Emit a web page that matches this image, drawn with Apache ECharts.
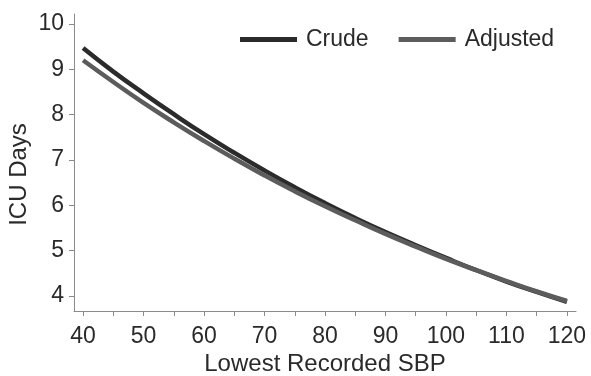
<!DOCTYPE html>
<html>
<head>
<meta charset="utf-8">
<script src="https://cdn.jsdelivr.net/npm/echarts@6/dist/echarts.min.js"></script>
<style>
  html, body { margin: 0; padding: 0; background: #fff; }
  #chart { width: 591px; height: 376px; }
</style>
</head>
<body>
<div id="chart"></div>
<script>
// lowest recorded SBP values
const sbp = [40, 45, 50, 55, 60, 65, 70, 75, 80, 85, 90, 95, 100, 105, 110, 115, 120]
const crude = [9.47, 8.95, 8.47, 8.01, 7.57, 7.16, 6.77, 6.40, 6.05, 5.72, 5.41, 5.12, 4.84, 4.57, 4.32, 4.09, 3.87]
const adjusted = [9.20, 8.72, 8.26, 7.83, 7.42, 7.03, 6.66, 6.31, 5.98, 5.67, 5.37, 5.09, 4.82, 4.57, 4.33, 4.10, 3.89]

const xTicks = [40, 45, 50, 55, 60, 65, 70, 75, 80, 85, 90, 95, 100, 105, 110, 115, 120]
const xLabels = [40, 50, 60, 70, 80, 90, 100, 110, 120]
const yTicks = [4, 5, 6, 7, 8, 9, 10]

const chart = echarts.init(document.getElementById('chart'))

const axisColor = '#8a8a8a'
const textColor = '#2a2a2a'
const font = 'Arial, "Liberation Sans", sans-serif'

chart.setOption({
  animation: false,
  grid: { left: 74, right: 15, top: 14, bottom: 65, outerBoundsMode: 'none', containLabel: false },
  legend: {
    top: 23,
    left: 235,
    icon: 'rect',
    itemWidth: 57,
    itemHeight: 5,
    itemGap: 30,
    textStyle: { fontSize: 23, color: textColor, fontFamily: font, padding: [0, 0, 0, 4] },
    data: ['Crude', 'Adjusted']
  },
  xAxis: {
    type: 'value',
    min: 38.5,
    max: 121.5,
    name: 'Lowest Recorded SBP',
    nameLocation: 'middle',
    nameGap: 41,
    nameMoveOverlap: false,
    nameTextStyle: { fontSize: 24, color: textColor, fontFamily: font },
    axisLine: { lineStyle: { color: axisColor, width: 1 } },
    axisTick: { customValues: xTicks, length: 5, lineStyle: { color: axisColor } },
    axisLabel: { customValues: xLabels, fontSize: 23, color: textColor, fontFamily: font, margin: 14 },
    splitLine: { show: false }
  },
  yAxis: {
    type: 'value',
    min: 3.67,
    max: 10.22,
    name: 'ICU Days',
    nameLocation: 'middle',
    nameGap: 43,
    nameMoveOverlap: false,
    nameRotate: 90,
    nameTextStyle: { fontSize: 24, color: textColor, fontFamily: font, padding: [0, 24, 0, 0] },
    axisLine: { show: true, lineStyle: { color: axisColor, width: 1 } },
    axisTick: { show: true, customValues: yTicks, length: 5, lineStyle: { color: axisColor } },
    axisLabel: { customValues: yTicks, fontSize: 23, color: textColor, fontFamily: font, margin: 10 },
    splitLine: { show: false }
  },
  series: [
    {
      name: 'Crude',
      type: 'line',
      smooth: true,
      symbol: 'none',
      data: sbp.map((x, i) => [x, crude[i]]),
      lineStyle: { width: 4.5, color: '#2b2b2b' },
      itemStyle: { color: '#2b2b2b' },
      z: 2
    },
    {
      name: 'Adjusted',
      type: 'line',
      smooth: true,
      symbol: 'none',
      data: sbp.map((x, i) => [x, adjusted[i]]),
      lineStyle: { width: 4.5, color: '#5c5c5c' },
      itemStyle: { color: '#5c5c5c' },
      z: 3
    }
  ]
})
</script>
</body>
</html>
